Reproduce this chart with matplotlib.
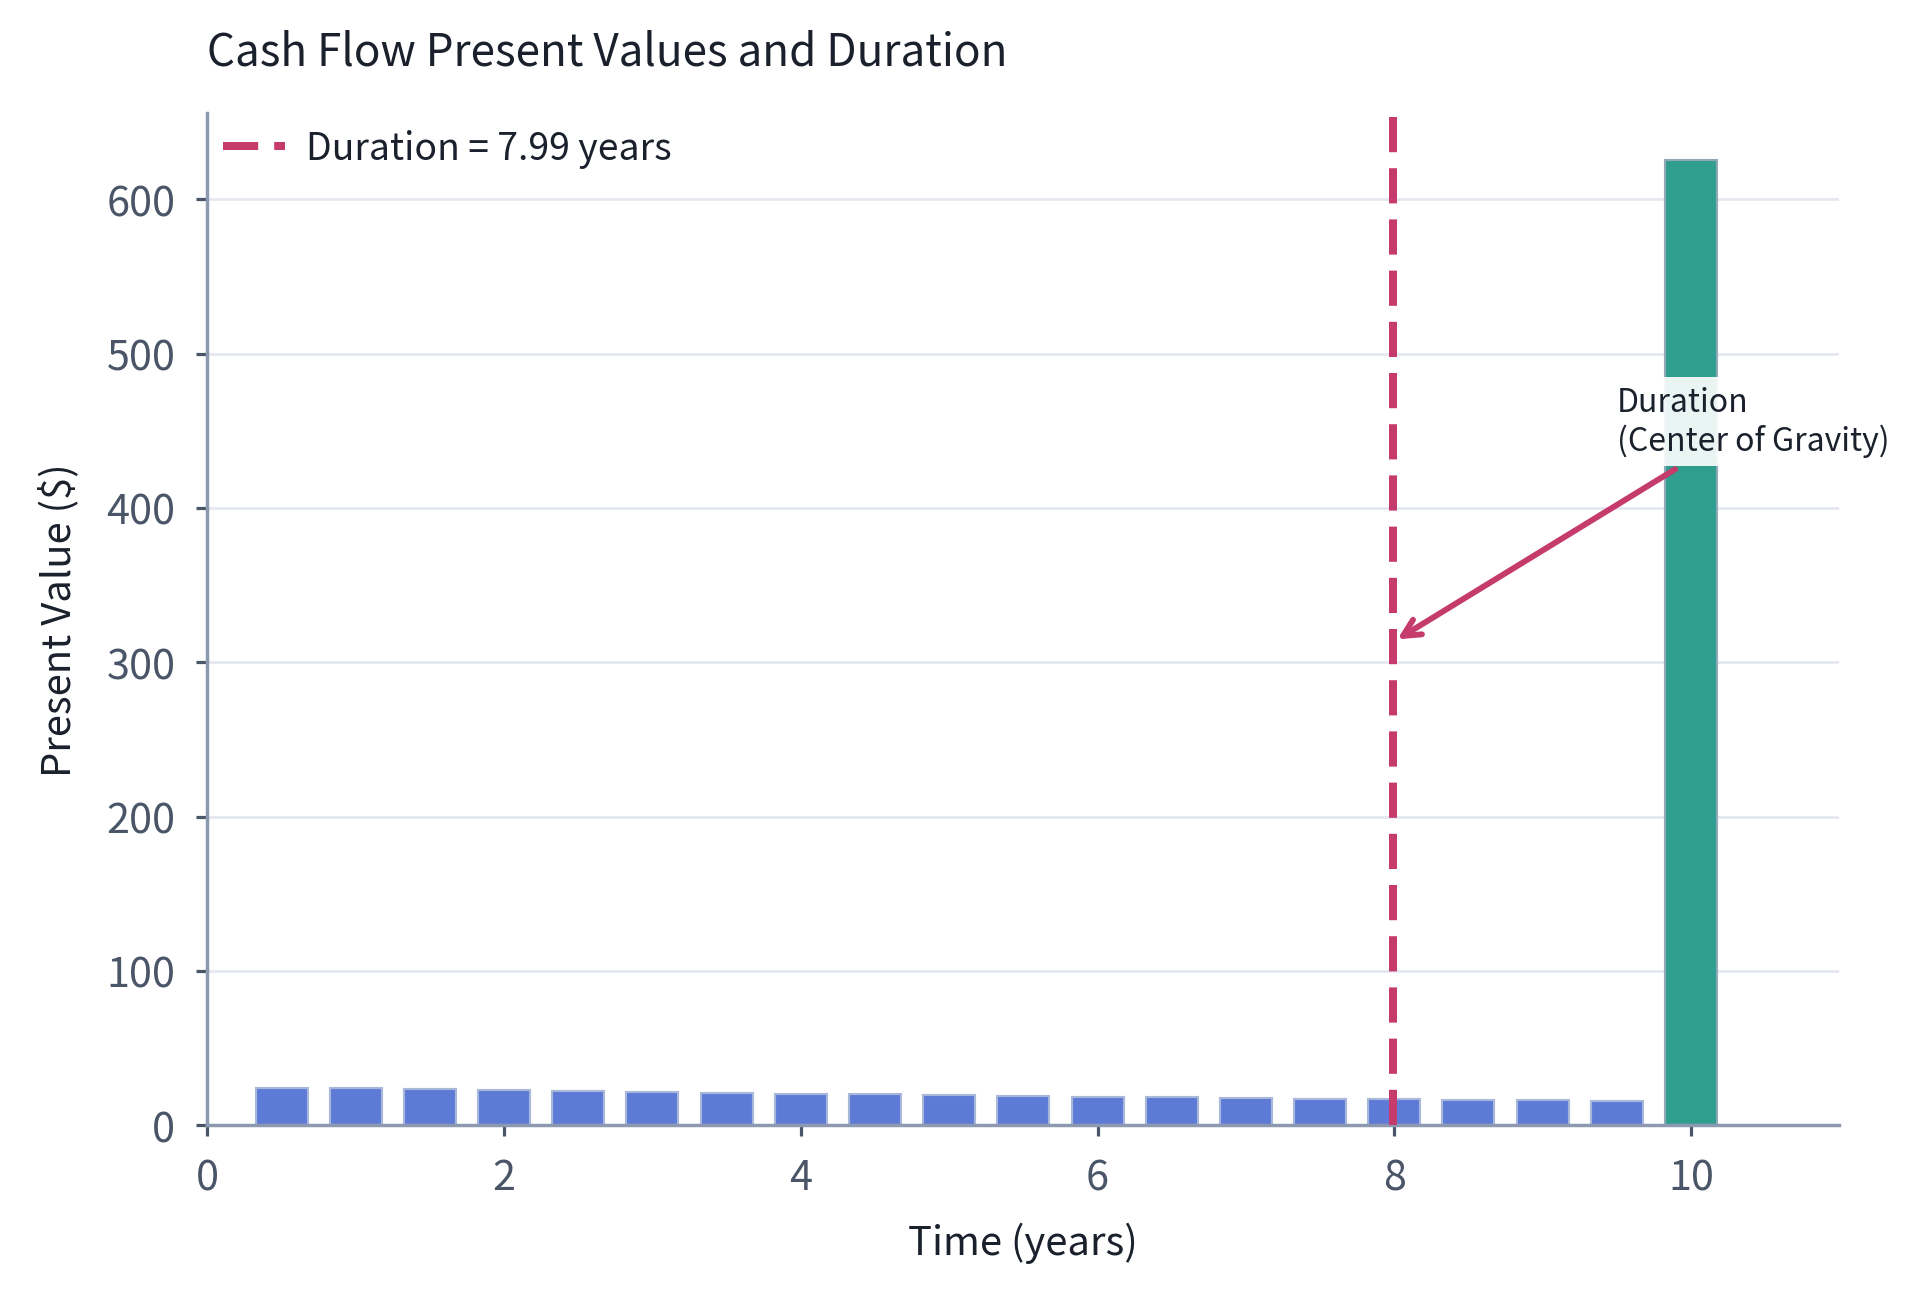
import numpy as np
import matplotlib.pyplot as plt

plt.rcParams['font.family'] = ['Noto Sans CJK KR', 'DejaVu Sans']

# semiannual cash flow times (years) and their present values ($)
coupon_times = [0.5, 1.0, 1.5, 2.0, 2.5, 3.0, 3.5, 4.0, 4.5, 5.0,
                5.5, 6.0, 6.5, 7.0, 7.5, 8.0, 8.5, 9.0, 9.5]
coupon_pv = [24.39, 23.80, 23.22, 22.65, 22.10, 21.56, 21.03, 20.52, 20.02, 19.53,
             19.05, 18.59, 18.14, 17.69, 17.26, 16.84, 16.43, 16.03, 15.64]
final_time = [10.0]
final_pv = [625.53]
duration = 7.99
arrow_y = 313
label_xy = (9.5, 456)

BLUE = '#5C7AD6'
GREEN = '#2F9E8F'
RED = '#C43B6C'
SPINE = '#8D99B0'
TICK = '#4A5568'
TEXT = '#1A202C'

fig, ax = plt.subplots(figsize=(10, 6.734), dpi=192)
fig.subplots_adjust(left=0.108, right=0.958, bottom=0.129, top=0.912)

ax.bar(coupon_times, coupon_pv, width=0.35, color=BLUE, edgecolor='#A9B8D8',
       linewidth=0.8, zorder=2)
ax.bar(final_time, final_pv, width=0.35, color=GREEN, edgecolor='#8FA9B8',
       linewidth=0.8, zorder=2)

ax.axvline(duration, color=RED, linestyle='--', linewidth=3, dashes=(4.4, 2.0),
           label=f'Duration = {duration:.2f} years', zorder=3)

ax.annotate('Duration\n(Center of Gravity)', xy=(duration, arrow_y), xytext=label_xy,
            fontsize=12, color=TEXT, ha='left', va='center',
            bbox=dict(boxstyle='square,pad=0.3', facecolor='white', edgecolor='none', alpha=0.9),
            arrowprops=dict(arrowstyle='->', color=RED, lw=2.2, mutation_scale=16),
            zorder=4)

ax.set_xlim(0, 11)
ax.set_ylim(0, 656)
ax.set_xticks([0, 2, 4, 6, 8, 10])
ax.set_yticks([0, 100, 200, 300, 400, 500, 600])

ax.set_title('Cash Flow Present Values and Duration', loc='left', fontsize=16.5,
             color=TEXT, pad=18)
ax.set_xlabel('Time (years)', fontsize=15, color=TEXT, labelpad=9)
ax.set_ylabel('Present Value ($)', fontsize=15, color=TEXT, labelpad=10)

ax.grid(axis='y', color='#E3E7EF', linewidth=1.0, zorder=0)
ax.set_axisbelow(True)
for side in ['top', 'right']:
    ax.spines[side].set_visible(False)
for side in ['left', 'bottom']:
    ax.spines[side].set_color(SPINE)
    ax.spines[side].set_linewidth(1.3)
ax.tick_params(axis='both', labelsize=15.5, labelcolor=TICK, color=TICK,
               length=4, width=1.2, pad=8)

leg = ax.legend(loc='upper left', frameon=False, fontsize=14, handlelength=1.64,
                handletextpad=0.56, borderaxespad=0.03, borderpad=0.4)
for t in leg.get_texts():
    t.set_color(TEXT)

fig.savefig('out.png', dpi=192, facecolor='white')
